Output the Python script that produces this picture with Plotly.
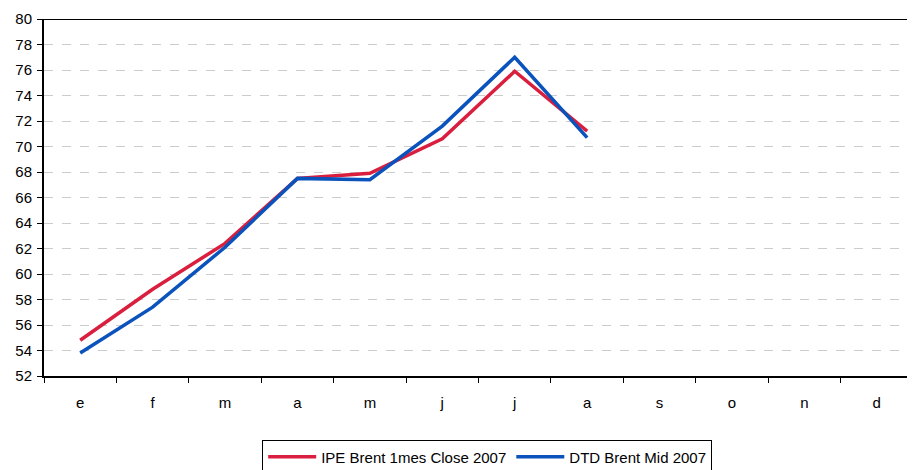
import plotly.graph_objects as go

months = ["e", "f", "m", "a", "m", "j", "j", "a", "s", "o", "n", "d"]
ipe_brent = [54.8, 58.8, 62.4, 67.5, 67.9, 70.6, 75.9, 71.2]
dtd_brent = [53.8, 57.4, 62.1, 67.5, 67.4, 71.6, 77.0, 70.7]
y_ticks = list(range(52, 81, 2))

x_idx = list(range(len(months)))

fig = go.Figure()
fig.add_trace(go.Scatter(x=x_idx[:len(ipe_brent)], y=ipe_brent, mode="lines",
                         name="IPE Brent 1mes Close 2007",
                         line=dict(color="#D91E3E", width=3.5)))
fig.add_trace(go.Scatter(x=x_idx[:len(dtd_brent)], y=dtd_brent, mode="lines",
                         name="DTD Brent Mid 2007",
                         line=dict(color="#0A52BC", width=3.5)))

fig.update_layout(
    width=907, height=462,
    margin=dict(l=36, r=2, t=11, b=94, autoexpand=False),
    plot_bgcolor="white", paper_bgcolor="white",
    font=dict(family="Liberation Sans, Arial, sans-serif", size=15, color="black"),
    showlegend=True,
    legend=dict(orientation="h", x=0.51, xanchor="center", y=-0.178, yanchor="top",
                bordercolor="black", borderwidth=1, font=dict(size=15),
                itemwidth=48, tracegroupgap=0),
    xaxis=dict(range=[-0.5, 11.5], tickvals=x_idx, ticktext=months, ticks="",
               showgrid=False, zeroline=False, showline=True, linecolor="black",
               linewidth=2, ticklabelstandoff=12, automargin=False,
               minor=dict(tickvals=[i - 0.5 for i in range(len(months) + 1)],
                          ticks="outside", ticklen=5, tickcolor="black", tickwidth=1,
                          showgrid=False)),
    yaxis=dict(range=[52, 80], tickvals=y_ticks, ticks="outside", ticklen=5,
               tickcolor="black", showline=True, linecolor="black", linewidth=2,
               showgrid=True, gridcolor="#CCCCCC", griddash="dash", gridwidth=1,
               zeroline=False, automargin=False, ticklabelstandoff=2),
)
fig.add_shape(type="line", xref="paper", yref="y", x0=0, x1=1, y0=80, y1=80,
              line=dict(color="black", width=2))
fig.write_html("out.html")
